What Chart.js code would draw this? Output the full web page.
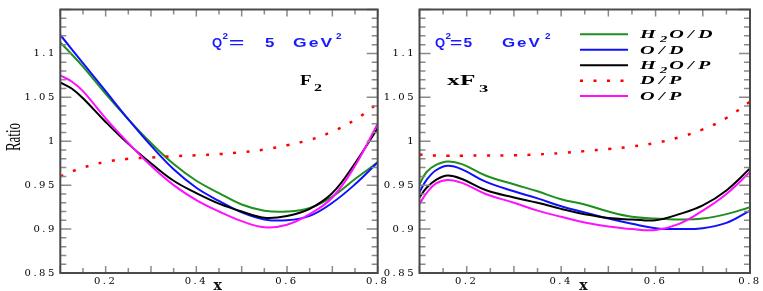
<!DOCTYPE html>
<html><head><meta charset="utf-8">
<script src="https://cdn.jsdelivr.net/npm/chart.js@4"></script>
<style>
html,body{margin:0;padding:0;background:#fff;width:763px;height:291px;overflow:hidden}
#c1{position:absolute;left:0;top:0}
#c2{position:absolute;left:378px;top:0}
</style></head><body>
<canvas id="c1" width="392" height="291"></canvas>
<canvas id="c2" width="385" height="291"></canvas>
<script>
// ---------- data ----------
const seriesLabels = ['H₂O/D', 'O/D', 'H₂O/P', 'D/P', 'O/P'];
const seriesColors = ['#1f8f1f', '#1010ff', '#000000', '#ff0000', '#ff10ff'];

// F2 panel
const xF2 = [0.1, 0.125, 0.15, 0.2, 0.25, 0.3, 0.35, 0.4, 0.45, 0.5, 0.55, 0.6, 0.65, 0.7, 0.75, 0.8];
const F2_H2O_D = [1.1125, 1.099, 1.085, 1.054, 1.025, 0.998, 0.974, 0.955, 0.941, 0.928, 0.921, 0.920, 0.924, 0.937, 0.957, 0.976];
const F2_O_D   = [1.121, 1.105, 1.089, 1.057, 1.025, 0.995, 0.968, 0.947, 0.932, 0.919, 0.911, 0.910, 0.915, 0.930, 0.951, 0.976];
const F2_H2O_P = [1.067, 1.060, 1.049, 1.022, 0.997, 0.975, 0.955, 0.941, 0.929, 0.920, 0.913, 0.915, 0.923, 0.941, 0.975, 1.015];
const F2_D_P   = [0.960, 0.9655, 0.970, 0.9765, 0.980, 0.9815, 0.983, 0.984, 0.9853, 0.9875, 0.9905, 0.9955, 1.0015, 1.011, 1.0245, 1.043];
const F2_O_P   = [1.075, 1.068, 1.057, 1.026, 0.998, 0.972, 0.950, 0.933, 0.920, 0.909, 0.902, 0.905, 0.917, 0.936, 0.972, 1.020];

// xF3 panel
const xF3 = [0.1, 0.115, 0.135, 0.16, 0.19, 0.24, 0.3, 0.35, 0.4, 0.45, 0.5, 0.55, 0.6, 0.65, 0.7, 0.75, 0.8];
const F3_H2O_D = [0.951, 0.965, 0.973, 0.977, 0.974, 0.961, 0.951, 0.943, 0.934, 0.928, 0.920, 0.914, 0.912, 0.911, 0.912, 0.917, 0.925];
const F3_O_D   = [0.942, 0.956, 0.967, 0.972, 0.968, 0.954, 0.943, 0.935, 0.926, 0.919, 0.912, 0.906, 0.901, 0.900, 0.901, 0.907, 0.921];
const F3_H2O_P = [0.936, 0.947, 0.956, 0.961, 0.957, 0.9445, 0.936, 0.930, 0.923, 0.917, 0.9125, 0.911, 0.910, 0.917, 0.927, 0.944, 0.969];
const F3_D_P   = [0.985, 0.9842, 0.9837, 0.9836, 0.9836, 0.9838, 0.984, 0.985, 0.9865, 0.9888, 0.9912, 0.994, 0.998, 1.0045, 1.0135, 1.0265, 1.045];
const F3_O_P   = [0.9286, 0.941, 0.952, 0.956, 0.9526, 0.940, 0.930, 0.921, 0.914, 0.9075, 0.903, 0.900, 0.899, 0.906, 0.921, 0.940, 0.965];

const yMin = 0.85, yMax = 1.15, xMin = 0.1, xMax = 0.8;

// ---------- helpers ----------
function makeDatasets(xs, arrays) {
  return arrays.map((arr, i) => ({
    label: seriesLabels[i],
    data: xs.map((x, j) => ({x: x, y: arr[j]})),
    borderColor: seriesColors[i],
    backgroundColor: seriesColors[i],
    borderWidth: i === 3 ? 2.5 : 2,
    borderDash: i === 3 ? [3, 10.5] : [],
    borderCapStyle: 'butt',
    pointRadius: 0,
    fill: false,
    tension: 0.4,
    order: [5, 4, 3, 2, 1][i]
  }));
}

function txt(ctx, s, x, y, font, color, sx, ls) {
  ctx.save();
  ctx.font = font; ctx.fillStyle = color;
  ctx.textBaseline = 'alphabetic'; ctx.textAlign = 'left';
  ctx.letterSpacing = (ls || 0) + 'px';
  ctx.translate(x, y); ctx.scale(sx || 1, 1);
  ctx.fillText(s, 0, 0);
  const w = ctx.measureText(s).width * (sx || 1);
  ctx.restore();
  return w;
}

const annotators = {};

const spacingPlugin = {
  id: 'spacing',
  beforeDraw(chart) { chart.ctx.letterSpacing = '2.5px'; },
  beforeDatasetsDraw(chart) { chart.ctx.letterSpacing = '0px'; }
};

const framePlugin = {
  id: 'frameTicks',
  afterDraw(chart) {
    const ctx = chart.ctx, ca = chart.chartArea;
    const xs = chart.scales.x, ys = chart.scales.y;
    ctx.save();
    ctx.letterSpacing = '0px';
    ctx.strokeStyle = '#8a8a8a'; ctx.lineWidth = 1.5;
    ctx.beginPath();
    for (let k = 85; k <= 115; k++) {
      const py = ys.getPixelForValue(k / 100);
      const len = k % 5 === 0 ? 11 : 6;
      ctx.moveTo(ca.left, py); ctx.lineTo(ca.left + len, py);
      ctx.moveTo(ca.right, py); ctx.lineTo(ca.right - len, py);
    }
    for (let k = 10; k <= 80; k += 5) {
      const px = xs.getPixelForValue(k / 100);
      const len = k % 10 === 0 ? 7 : 5;
      ctx.moveTo(px, ca.bottom); ctx.lineTo(px, ca.bottom - len);
      ctx.moveTo(px, ca.top); ctx.lineTo(px, ca.top + len);
    }
    ctx.stroke();
    ctx.strokeStyle = '#4a4a4a'; ctx.lineWidth = 2;
    ctx.strokeRect(ca.left, ca.top, ca.right - ca.left, ca.bottom - ca.top);
    ctx.restore();
    const fn = annotators[chart.canvas.id];
    if (fn) fn(chart);
  }
};

function makeChart(id, xs, arrays, yAxisWidth, padRight) {
  return new Chart(document.getElementById(id), {
    type: 'line',
    data: {datasets: makeDatasets(xs, arrays)},
    options: {
      responsive: false, animation: false, devicePixelRatio: 1,
      layout: {padding: {left: 0, right: padRight, top: 1, bottom: 0}},
      plugins: {legend: {display: false}, tooltip: {enabled: false}},
      scales: {
        x: {
          type: 'linear', min: xMin, max: xMax,
          afterFit(s) { s.height = 18; },
          grid: {display: false, drawTicks: false}, border: {display: false},
          ticks: {
            stepSize: 0.05, autoSkip: false, maxRotation: 0, padding: 2,
            color: '#000', font: {family: 'DejaVu Serif', size: 10},
            callback: v => { const c = Math.round(v * 100); return c % 20 === 0 ? String(c / 100) : ''; }
          },
          title: {display: true, text: 'x', color: '#111', padding: {top: 0, bottom: -2},
                  font: {family: 'DejaVu Serif', size: 14, weight: 'bold', lineHeight: 1}}
        },
        y: {
          type: 'linear', min: yMin, max: yMax,
          afterFit(s) { s.width = yAxisWidth; },
          grid: {display: false, drawTicks: false}, border: {display: false},
          ticks: {
            stepSize: 0.05, autoSkip: false, padding: 3.5,
            color: '#000', font: {family: 'DejaVu Serif', size: 10},
            callback: v => { const r = Math.round(v * 100) / 100; return r > 1.12 ? '' : String(r); }
          }
        }
      }
    },
    plugins: [spacingPlugin, framePlugin]
  });
}

const blue = '#1a1aff';
const bSans = s => 'bold ' + s + 'px "Liberation Sans"';
const bSerif = s => 'bold ' + s + 'px "Liberation Serif"';
const biSerif = s => 'italic bold ' + s + 'px "Liberation Serif"';

// left panel annotations
annotators.c1 = function (chart) {
  const ctx = chart.ctx;
  ctx.save();
  ctx.translate(19.5, 137); ctx.rotate(-Math.PI / 2); ctx.scale(1, 1.6);
  ctx.font = '13px "Liberation Serif"'; ctx.fillStyle = '#000';
  ctx.textAlign = 'center'; ctx.textBaseline = 'alphabetic';
  ctx.fillText('Ratio', 0, 0);
  ctx.restore();
  txt(ctx, 'Q', 212, 46.7, bSans(13), blue, 1);
  txt(ctx, '2', 222.5, 39, bSans(9), blue, 1.1);
  txt(ctx, '=', 229, 46.7, bSans(13), blue, 2.0);
  txt(ctx, '5', 265, 46.7, bSans(13), blue, 1.3);
  txt(ctx, 'GeV', 293, 46.7, bSans(13), blue, 1.35, 1.5);
  txt(ctx, '2', 336, 39, bSans(9), blue, 1.1);
  txt(ctx, 'F', 300, 85, bSerif(14), '#000', 1.35);
  txt(ctx, '2', 314, 91, bSerif(11), '#000', 1.45);
};

// right panel annotations + legend
annotators.c2 = function (chart) {
  const ctx = chart.ctx, o = 378;
  txt(ctx, 'Q', 435 - o, 46.7, bSans(13), blue, 1);
  txt(ctx, '2', 445.5 - o, 39, bSans(9), blue, 1.1);
  txt(ctx, '=', 450 - o, 46.7, bSans(13), blue, 1.6);
  txt(ctx, '5', 463.5 - o, 46.7, bSans(13), blue, 1.2);
  txt(ctx, 'GeV', 502 - o, 46.7, bSans(13), blue, 1.3, 1.5);
  txt(ctx, '2', 545 - o, 39, bSans(9), blue, 1.1);
  txt(ctx, 'x', 447 - o, 85, bSerif(14), '#000', 1.8);
  txt(ctx, 'F', 460 - o, 85, bSerif(14), '#000', 1.8);
  txt(ctx, '3', 479 - o, 91.5, bSerif(11), '#000', 1.7);
  chart.data.datasets.forEach((ds, i) => {
    const y = 34.3 + i * 15.45;
    ctx.save();
    ctx.strokeStyle = ds.borderColor; ctx.lineWidth = ds.borderWidth;
    ctx.setLineDash(ds.borderDash); ctx.lineCap = 'butt';
    ctx.beginPath(); ctx.moveTo(580 - o, y); ctx.lineTo(628 - o, y); ctx.stroke();
    ctx.restore();
    let x = 640 - o;
    const parts = ds.label.split('₂');
    parts.forEach((p, k) => {
      if (k > 0) x += txt(ctx, '2', x, y + 7.5, biSerif(8), '#000', 1.8, 0.5) + 1;
      x += txt(ctx, p, x, y + 3.8, biSerif(11.5), '#000', 1.75, 2.5);
    });
  });
};

makeChart('c1', xF2, [F2_H2O_D, F2_O_D, F2_H2O_P, F2_D_P, F2_O_P], 60.3, 14.3);
makeChart('c2', xF3, [F3_H2O_D, F3_O_D, F3_H2O_P, F3_D_P, F3_O_P], 41.5, 13);
</script>
</body></html>
